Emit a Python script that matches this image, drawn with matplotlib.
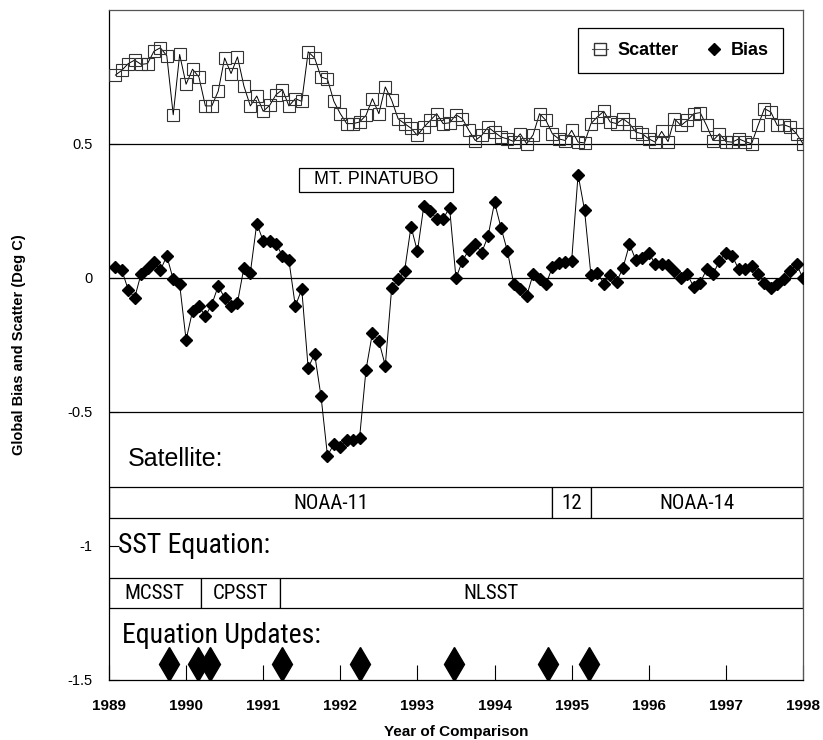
import numpy as np
import matplotlib
matplotlib.use("Agg")
import matplotlib.pyplot as plt
from matplotlib import font_manager
from matplotlib.patches import Rectangle
from matplotlib.lines import Line2D

plt.rcParams['font.family'] = ['Liberation Sans', 'DejaVu Sans']
plt.rcParams['axes.unicode_minus'] = False

# monthly comparisons, Feb 1989 .. Jan 1998
months = 1989 + np.arange(1, 109) / 12.0

scatter = [0.757, 0.775, 0.800, 0.813, 0.797, 0.800, 0.846, 0.859, 0.829, 0.609,
           0.834, 0.723, 0.779, 0.750, 0.642, 0.642, 0.697, 0.821, 0.763, 0.825,
           0.716, 0.642, 0.679, 0.622, 0.644, 0.684, 0.703, 0.642, 0.669, 0.659,
           0.844, 0.821, 0.750, 0.742, 0.659, 0.613,
           0.576, 0.576, 0.582, 0.607, 0.669, 0.613, 0.713, 0.663, 0.594, 0.576,
           0.559, 0.532, 0.563, 0.588, 0.613, 0.576, 0.579, 0.609, 0.594, 0.551,
           0.513, 0.532, 0.563, 0.544, 0.526, 0.519, 0.509, 0.538, 0.501, 0.534,
           0.613, 0.588, 0.538, 0.519, 0.513, 0.551,
           0.507, 0.504, 0.576, 0.601, 0.622, 0.582, 0.576, 0.594, 0.576, 0.544,
           0.538, 0.519, 0.507, 0.547, 0.509, 0.594, 0.569, 0.588, 0.613, 0.617,
           0.569, 0.513, 0.538, 0.509, 0.507, 0.519, 0.509, 0.501, 0.569, 0.632,
           0.619, 0.569, 0.572, 0.563, 0.538, 0.501]

bias = [0.041, 0.029, -0.044, -0.074, 0.016, 0.039, 0.060, 0.029, 0.082, -0.005,
        -0.024, -0.231, -0.124, -0.106, -0.142, -0.099, -0.030, -0.074, -0.105, -0.092,
        0.039, 0.020, 0.203, 0.139, 0.139, 0.128, 0.082, 0.066, -0.105, -0.042,
        -0.336, -0.283, -0.442, -0.663, -0.620,
        -0.629, -0.604, -0.604, -0.596, -0.342, -0.205, -0.236, -0.327, -0.036, -0.005,
        0.026, 0.192, 0.099, 0.270, 0.251, 0.220, 0.220, 0.263, -0.001, 0.064,
        0.104, 0.126, 0.095, 0.157, 0.282, 0.188, 0.101, -0.024, -0.042, -0.067,
        0.014, -0.005, -0.024, 0.041, 0.057, 0.061,
        0.064, 0.386, 0.254, 0.011, 0.020, -0.021, 0.011, -0.014, 0.039, 0.126,
        0.066, 0.076, 0.095, 0.051, 0.051, 0.049, 0.026, -0.001, 0.014, -0.034,
        -0.018, 0.032, 0.014, 0.064, 0.095, 0.082, 0.032, 0.032, 0.045, 0.014,
        -0.018, -0.039, -0.021, -0.005, 0.026, 0.051, -0.001]

# satellite / equation periods (start, end, label)
sat_periods = [(1989.0, 1994.75, 'NOAA-11'), (1994.75, 1995.25, '12'), (1995.25, 1998.0, 'NOAA-14')]
sst_periods = [(1989.0, 1990.19, 'MCSST'), (1990.19, 1991.22, 'CPSST'), (1991.22, 1998.0, 'NLSST')]
updates = [1989.78, 1990.15, 1990.31, 1991.24, 1992.26, 1993.47, 1994.69, 1995.23]

yticks = [-1.5, -1, -0.5, 0, 0.5]
ytick_labels = ['-1.5', '-1', '-0.5', '0', '0.5']
years = list(range(1989, 1999))

# pick a condensed face if one is installed
installed = {f.name for f in font_manager.fontManager.ttflist}
narrow = 'Liberation Sans'
for cand in ['Liberation Sans Narrow', 'Arial Narrow', 'DejaVu Sans Condensed',
             'Roboto Condensed', 'Open Sans Condensed', 'Noto Sans Condensed']:
    if cand in installed:
        narrow = cand
        break
narrow_kw = dict(family=narrow)
if narrow == 'Liberation Sans':
    narrow_kw['fontstretch'] = 'condensed'

fig = plt.figure(figsize=(8.23, 7.40), dpi=100)
ax = fig.add_axes([0.1324, 0.0811, 0.8433, 0.9054])

for yl in [0.5, 0, -0.5]:
    ax.axhline(yl, color='black', lw=0.9, zorder=1)

ax.plot(months, scatter, color='black', lw=0.7, marker='s', ms=9, mfc='none',
        mec='#333333', mew=0.8, zorder=3, label='Scatter')
ax.plot(months, bias, color='black', lw=0.7, marker='D', ms=6.5, mfc='black',
        mec='black', zorder=4, label='Bias')

# MT. PINATUBO label box
ax.add_patch(Rectangle((1991.46, 0.322), 2.0, 0.09, fill=False, ec='black', lw=0.9))
ax.text(1992.46, 0.367, 'MT. PINATUBO', ha='center', va='center', fontsize=13)

ax.text(1989.25, -0.675, 'Satellite:', ha='left', va='center', fontsize=18)
for x0, x1, lab in sat_periods:
    ax.add_patch(Rectangle((x0, -0.894), x1 - x0, 0.115, fc='white', ec='black', lw=0.9))
    ax.text((x0 + x1) / 2, -0.84, lab, ha='center', va='center', fontsize=15, **narrow_kw)

ax.text(1989.12, -1.0, 'SST Equation:', ha='left', va='center', fontsize=20, **narrow_kw)
for x0, x1, lab in sst_periods:
    ax.add_patch(Rectangle((x0, -1.232), x1 - x0, 0.112, fc='white', ec='black', lw=0.9))
    xc = (x0 + x1) / 2 if lab != 'NLSST' else 1993.95
    ax.text(xc, -1.176, lab, ha='center', va='center', fontsize=15, **narrow_kw)

ax.text(1989.17, -1.333, 'Equation Updates:', ha='left', va='center', fontsize=20, **narrow_kw)
ax.plot(updates, [-1.44] * len(updates), ls='none', marker='d', ms=17, color='black')

ax.set_xlim(1989, 1998)
ax.set_ylim(-1.5, 1.0)
ax.set_xticks(years)
ax.set_xticklabels([str(y) for y in years], fontsize=11, fontweight='bold')
ax.set_yticks(yticks)
ax.set_yticklabels(ytick_labels, fontsize=10.5)
ax.tick_params(axis='x', direction='in', length=11, width=0.8, pad=14)
ax.tick_params(axis='y', direction='in', length=7, width=0.8, pad=12)
for side in ['top', 'right']:
    ax.spines[side].set_color('#555555')
for s in ax.spines.values():
    s.set_linewidth(0.9)

ax.set_xlabel('Year of Comparison', fontsize=11, fontweight='bold', labelpad=8)
ax.set_ylabel('Global Bias and Scatter (Deg C)', fontsize=10.5, fontweight='bold')
ax.yaxis.set_label_coords(-0.12, 0.5)

handles = [Line2D([], [], color='#555555', lw=0.8, marker='s', ms=9, mfc='none', mec='#333333'),
           Line2D([], [], ls='none', marker='D', ms=6, color='black')]
leg = ax.legend(handles, ['Scatter', 'Bias'], ncol=2, loc='center',
                bbox_to_anchor=(0.673, 0.901, 0.301, 0.077), fancybox=False,
                edgecolor='black', framealpha=1, handlelength=0.9, handletextpad=0.5,
                columnspacing=1.5, borderpad=0.8, prop={'weight': 'bold', 'size': 13})
leg.get_frame().set_linewidth(0.9)

fig.savefig('out.png', dpi=100)
